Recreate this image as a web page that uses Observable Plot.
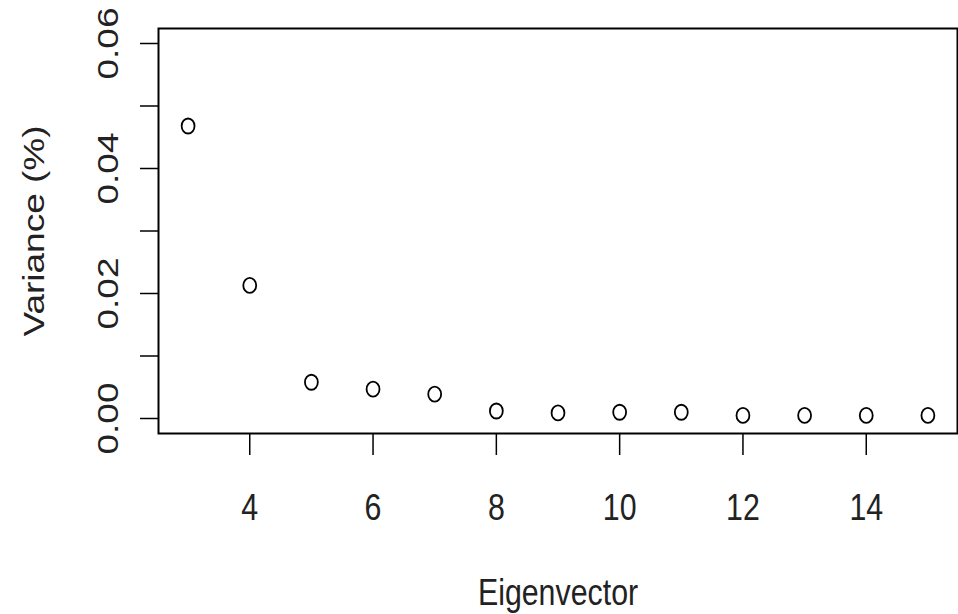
<!DOCTYPE html>
<html>
<head>
<meta charset="utf-8">
<script src="https://cdn.jsdelivr.net/npm/d3@7"></script>
<script src="https://cdn.jsdelivr.net/npm/@observablehq/plot@0.6"></script>
<style>
  html, body { margin: 0; padding: 0; background: #ffffff; }
  #chart svg { display: block; }
</style>
</head>
<body>
<div id="chart"></div>
<script>
// Scree plot: share of variance per eigenvector
const eigenvector = [3, 4, 5, 6, 7, 8, 9, 10, 11, 12, 13, 14, 15];
const variance = [0.0468, 0.0213, 0.0058, 0.0047, 0.0039, 0.0012, 0.0009, 0.0010, 0.0010, 0.0005, 0.0005, 0.0005, 0.0005];

const xTicks = [4, 6, 8, 10, 12, 14];
const yTicks = [0, 0.01, 0.02, 0.03, 0.04, 0.05, 0.06];
const yTickLabels = [0, 0.02, 0.04, 0.06];

const xTitle = "Eigenvector";
const yTitle = "Variance (%)";

const points = eigenvector.map((e, i) => ({eigenvector: e, variance: variance[i]}));

// open ellipse symbol, slightly narrower than tall
const ellipse = {
  draw(context, size) {
    const ry = Math.sqrt(size / Math.PI);
    const rx = ry * 0.86;
    const k = 0.5523;
    context.moveTo(rx, 0);
    context.bezierCurveTo(rx, k * ry, k * rx, ry, 0, ry);
    context.bezierCurveTo(-k * rx, ry, -rx, k * ry, -rx, 0);
    context.bezierCurveTo(-rx, -k * ry, -k * rx, -ry, 0, -ry);
    context.bezierCurveTo(k * rx, -ry, rx, -k * ry, rx, 0);
    context.closePath();
  }
};

const sans = "'Liberation Sans', Arial, sans-serif";

const chart = Plot.plot({
  width: 958,
  height: 614,
  marginLeft: 158,
  marginRight: 1,
  marginTop: 28,
  marginBottom: 181,
  style: {background: "#ffffff", color: "#000000", overflow: "visible"},
  x: {domain: [2.52, 15.48]},
  y: {domain: [-0.0024, 0.0624]},
  marks: [
    Plot.frame({stroke: "#000000", strokeWidth: 2}),
    Plot.axisX(xTicks, {
      tickSize: 22,
      tickPadding: 38,
      strokeWidth: 1.5,
      fontSize: 37,
      fontFamily: sans,
      fill: "#222222",
      tickFormat: d => String(d),
      label: null
    }),
    Plot.axisY(yTicks, {
      tickSize: 18,
      strokeWidth: 1.5,
      tickFormat: () => "",
      label: null
    }),
    Plot.text(yTickLabels, {
      y: d => d,
      text: d => d3.format(".2f")(d),
      frameAnchor: "left",
      dx: -50.5,
      rotate: -90,
      textAnchor: "middle",
      lineAnchor: "middle",
      fontSize: 37,
      fontFamily: sans,
      fill: "#222222"
    }),
    Plot.text([yTitle], {
      text: d => d,
      frameAnchor: "left",
      dx: -124.5,
      rotate: -90,
      textAnchor: "middle",
      lineAnchor: "middle",
      fontSize: 37,
      fontFamily: sans,
      fill: "#222222"
    }),
    Plot.text([xTitle], {
      text: d => d,
      frameAnchor: "bottom",
      dy: 160,
      textAnchor: "middle",
      lineAnchor: "middle",
      fontSize: 37,
      fontFamily: sans,
      fill: "#222222"
    }),
    Plot.dot(points, {
      x: "eigenvector",
      y: "variance",
      r: 7.5,
      symbol: ellipse,
      stroke: "#000000",
      strokeWidth: 1.8,
      fill: "none"
    })
  ]
});

document.getElementById("chart").appendChild(chart);

// text is drawn condensed horizontally on screen (0.82), about each label's centre
const squeeze = 0.82;
const ns = "http://www.w3.org/2000/svg";
d3.select(chart).selectAll("text").each(function () {
  if (!this.textContent.trim()) return;
  const t = this.getAttribute("transform") || "";
  if (t.includes("rotate")) {
    this.setAttribute("transform", `${t} scale(1,${squeeze})`);
    return;
  }
  const box = this.getBoundingClientRect();
  const m = this.parentNode.getScreenCTM();
  const cx = (box.x + box.width / 2 - m.e) / m.a;
  const g = document.createElementNS(ns, "g");
  this.parentNode.insertBefore(g, this);
  g.appendChild(this);
  g.setAttribute("transform", `translate(${cx},0) scale(${squeeze},1) translate(${-cx},0)`);
});
</script>
</body>
</html>
